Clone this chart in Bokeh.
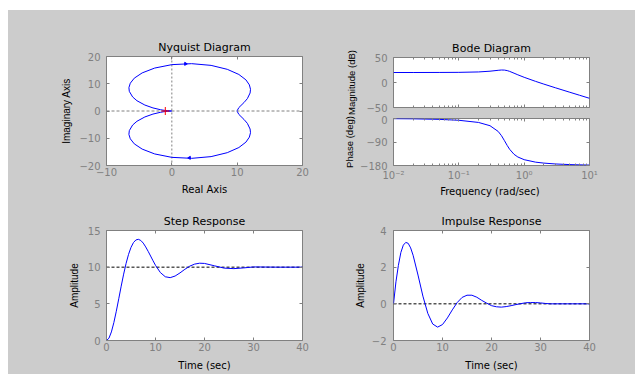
from bokeh.plotting import figure
from bokeh.layouts import row, column
from bokeh.models import (Range1d, FixedTicker, LinearAxis, LogAxis, Span, Spacer)
from bokeh.embed import file_html
from bokeh.resources import INLINE

# ---------------- data ----------------
# Nyquist: positive-frequency branch (lower half); the upper half is its mirror image
nyq_re = [10.0, 10.26, 11.04, 11.56, 11.98, 12.04, 11.87, 11.34, 10.26, 8.49, 6.01, 3.03,
          0.0, -2.62, -4.54, -5.75, -6.36, -6.57, -6.51, -6.00, -5.34, -4.13, -2.89,
          -1.77, -1.19, -0.65, -0.28, -0.03]
nyq_im = [-0.11, -1.26, -3.09, -4.53, -6.61, -7.97, -9.58, -11.43, -13.41, -15.29, -16.74,
          -17.37, -17.01, -15.76, -13.98, -12.05, -10.20, -8.58, -7.21, -5.15, -3.77,
          -2.19, -1.13, -0.49, -0.26, -0.10, -0.03, 0.0]
crit_re = [-1.0]
crit_im = [0.0]
arrow_re = [2.1, 2.7]
arrow_im = [17.3, -17.2]

bode_w = [0.01, 0.02, 0.05, 0.1, 0.2, 0.3, 0.4, 0.45, 0.5, 0.55, 0.6, 0.7, 0.8, 1.0,
          1.5, 2.0, 3.0, 5.0, 7.0, 10.0]
bode_mag = [20.0, 20.0, 20.1, 20.3, 21.1, 22.6, 24.4, 25.0, 24.8, 23.8, 22.2, 18.6, 15.4,
            10.4, 2.2, -3.2, -10.5, -19.5, -25.4, -31.6]
bode_phase = [-0.7, -1.3, -3.3, -6.8, -15.1, -27.6, -49.5, -65.9, -85.1, -103.3, -118.1,
              -137.1, -147.4, -157.7, -167.2, -170.8, -174.1, -176.5, -177.5, -178.3]

step_t = [0, 0.5, 1, 1.5, 2, 2.5, 3, 3.5, 4, 4.5, 5, 5.5, 6, 6.5, 7, 7.5, 8, 8.5, 9, 9.5,
          10, 11, 12, 13, 14, 15, 16, 17, 18, 19, 20, 22, 24, 26, 28, 30, 35, 40]
step_y = [0, 0.31, 1.17, 2.44, 3.99, 5.69, 7.41, 9.05, 10.52, 11.75, 12.70, 13.35, 13.71,
          13.80, 13.64, 13.28, 12.76, 12.16, 11.52, 10.87, 10.25, 9.26, 8.69, 8.57, 8.79,
          9.22, 9.71, 10.14, 10.42, 10.54, 10.51, 10.19, 9.87, 9.80, 9.90, 10.03, 10.0, 10.0]
step_final = 10.0

imp_t = [0, 0.5, 1, 1.5, 2, 2.5, 3, 3.5, 4, 5, 6, 7, 8, 9, 10, 11, 12, 13, 14, 15, 16, 17,
         18, 19, 20, 21, 22, 23, 24, 25, 26, 27, 28, 29, 30, 31, 32, 35, 40]
imp_y = [0, 1.2, 2.1, 2.8, 3.2, 3.35, 3.3, 3.05, 2.65, 1.57, 0.42, -0.52, -1.1, -1.27,
         -1.13, -0.77, -0.33, 0.07, 0.35, 0.47, 0.47, 0.36, 0.19, 0.04, -0.10, -0.16,
         -0.18, -0.15, -0.10, -0.04, 0.01, 0.06, 0.07, 0.07, 0.05, 0.02, 0.0, 0.0, 0.0]
imp_final = 0.0

nyq_xticks = [-10, 0, 10, 20]
nyq_yticks = [-20, -10, 0, 10, 20]
bode_wticks = [0.01, 0.1, 1, 10]
bode_wlabels = ["10\u207b\u00b2", "10\u207b\u00b9", "10\u2070", "10\u00b9"]
mag_ticks = [-50, 0, 50]
phase_ticks = [-180, -90, 0]
time_ticks = [0, 10, 20, 30, 40]
step_yticks = [0, 5, 10, 15]
imp_yticks = [-2, 0, 2, 4]

# ---------------- style ----------------
BG = "#cccccc"
TICK_C = "#808080"
BLUE = "#0000ff"
FONT = "DejaVu Sans"
VFONT = "Liberation Sans"

log_minor = [k * 10.0 ** e for e in (-2, -1, 0) for k in range(2, 10)]


def style_axis(a, labels=True, standoff=3, minor=False):
    a.axis_line_color = None
    a.major_tick_line_color = TICK_C
    a.major_tick_in = 3
    a.major_tick_out = 0
    a.minor_tick_line_color = TICK_C
    a.minor_tick_in = 2 if minor else 0
    a.minor_tick_out = 0
    a.major_label_text_font = FONT
    if labels:
        a.major_label_text_color = TICK_C
        a.major_label_text_font_size = "10px"
        a.major_label_standoff = standoff
    else:
        a.major_label_text_color = None
        a.major_label_text_font_size = "1px"
        a.major_label_standoff = 0
    a.axis_label_text_font_style = "normal"
    a.axis_label_text_color = "black"


def make_fig(bl, fw, br, bt, fh, bb, xr, yr, xtype="linear", title=None):
    p = figure(frame_width=fw, frame_height=fh, min_border_left=bl, min_border_right=br,
               min_border_top=bt, min_border_bottom=bb, x_range=xr, y_range=yr,
               x_axis_type=xtype, output_backend="svg", toolbar_location=None, tools="",
               title=title)
    p.border_fill_color = BG
    p.background_fill_color = "white"
    p.outline_line_color = TICK_C
    p.grid.visible = False
    if title:
        p.title.text_font = FONT
        p.title.text_font_size = "11px"
        p.title.text_font_style = "normal"
        p.title.text_color = "black"
        p.title.align = "center"
        p.title.standoff = 6
    return p


def setup_axes(p, xticks, yticks, xlog=False, xlabels=True, xlabel=None, ylabel=None,
               xstand=2, ystand=6, xlab_stand=5, ylab_stand=10, xoverrides=None,
               ylab_size="10px"):
    xt = FixedTicker(ticks=xticks, minor_ticks=log_minor if xlog else [])
    yt = FixedTicker(ticks=yticks, minor_ticks=[])
    bx = p.xaxis[0]
    by = p.yaxis[0]
    bx.ticker = xt
    by.ticker = yt
    style_axis(bx, labels=xlabels, standoff=xstand, minor=xlog)
    style_axis(by, labels=True, standoff=ystand)
    if xoverrides:
        bx.major_label_overrides = xoverrides
    if xlabel:
        bx.axis_label = xlabel
        bx.axis_label_text_font = FONT
        bx.axis_label_text_font_size = "10px"
        bx.axis_label_standoff = xlab_stand
    if ylabel:
        by.axis_label = ylabel
        by.axis_label_text_font = VFONT
        by.axis_label_text_font_size = ylab_size
        by.axis_label_standoff = ylab_stand
    ax = LogAxis(ticker=xt) if xlog else LinearAxis(ticker=xt)
    style_axis(ax, labels=False, minor=xlog)
    p.add_layout(ax, "above")
    ay = LinearAxis(ticker=yt)
    style_axis(ay, labels=False)
    p.add_layout(ay, "right")


# ---------------- Nyquist ----------------
nyq = make_fig(98, 196, 13, 46, 109, 35, Range1d(-10, 20), Range1d(-20, 20),
               title="Nyquist Diagram")
setup_axes(nyq, nyq_xticks, nyq_yticks, xlabel="Real Axis", ylabel="Imaginary Axis",
           ylab_stand=4)
nyq.add_layout(Span(location=0, dimension="width", line_color=TICK_C, line_dash="3 2",
                    line_width=1, level="underlay"))
nyq.add_layout(Span(location=0, dimension="height", line_color=TICK_C, line_dash="2 2",
                    line_width=1, level="underlay"))
nyq.line(nyq_re, nyq_im, line_color=BLUE, line_width=1)
nyq.line(nyq_re, [-v for v in nyq_im], line_color=BLUE, line_width=1)
nyq.scatter(arrow_re, arrow_im, marker="triangle", size=3, angle=[-1.5708, 1.5708],
            color=BLUE)
nyq.scatter(crit_re, crit_im, marker="cross", size=8, line_color="red", line_width=1)

# ---------------- Bode ----------------
mag = make_fig(78, 196, 45, 47, 50, 8, Range1d(0.01, 10), Range1d(-50, 50), xtype="log",
               title="Bode Diagram")
setup_axes(mag, bode_wticks, mag_ticks, xlog=True, xlabels=False,
           ylabel="Magnitude (dB)", ylab_stand=6, ylab_size="9.5px")
mag.line(bode_w, bode_mag, line_color=BLUE, line_width=1)

phase = make_fig(78, 196, 45, 3, 47, 35, Range1d(0.01, 10), Range1d(-180, 0), xtype="log")
setup_axes(phase, bode_wticks, phase_ticks, xlog=True, xlabel="Frequency  (rad/sec)",
           ylabel="Phase (deg)", ylab_stand=2, xstand=4, xlab_stand=2, ylab_size="9.5px",
           xoverrides={w: s for w, s in zip(bode_wticks, bode_wlabels)})
phase.line(bode_w, bode_phase, line_color=BLUE, line_width=1)

# ---------------- Step ----------------
step = make_fig(98, 196, 13, 30, 110, 33, Range1d(0, 40), Range1d(0, 15),
                title="Step Response")
setup_axes(step, time_ticks, step_yticks, xlabel="Time (sec)", ylabel="Amplitude",
           ylab_stand=5, xlab_stand=6)
step.add_layout(Span(location=step_final, dimension="width", line_color="black",
                     line_dash="3 2", line_width=1, level="underlay"))
step.line(step_t, step_y, line_color=BLUE, line_width=1)

# ---------------- Impulse ----------------
imp = make_fig(78, 196, 45, 30, 110, 33, Range1d(0, 40), Range1d(-2, 4),
               title="Impulse Response")
setup_axes(imp, time_ticks, imp_yticks, xlabel="Time (sec)", ylabel="Amplitude",
           ystand=7, ylab_stand=3, xlab_stand=6)
imp.add_layout(Span(location=imp_final, dimension="width", line_color="black",
                    line_dash="3 2", line_width=1, level="underlay"))
imp.line(imp_t, imp_y, line_color=BLUE, line_width=1)

gray = {"background-color": BG}
white = {"background-color": "white"}
inner = column(row(nyq, column(mag, phase, spacing=0, styles=gray), spacing=0, styles=gray),
               row(step, imp, spacing=0, styles=gray), spacing=0, styles=gray)
layout = column(Spacer(width=635, height=10, styles=white),
                row(Spacer(width=8, height=364, styles=white), inner, spacing=0, styles=gray),
                spacing=0, styles=gray)

open("out.html", "w").write(file_html(layout, INLINE))
